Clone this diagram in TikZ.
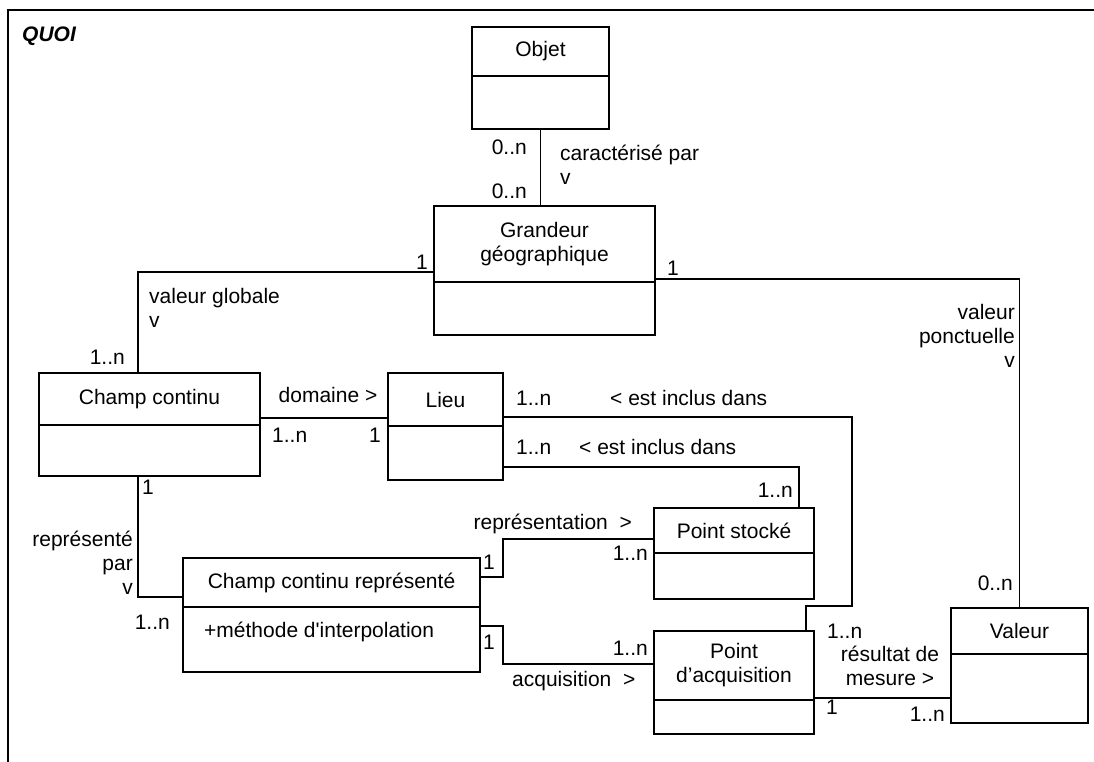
\documentclass[tikz,border=0pt]{standalone}
\usepackage{fontspec}
\setmainfont{Liberation Sans}
\usetikzlibrary{positioning}

\begin{document}
\begin{tikzpicture}[
  x=1pt, y=-1pt,
  font=\fontsize{21}{24}\selectfont,
  head/.style={draw, line width=1.6pt, inner sep=0pt, outer sep=0pt,
               anchor=north west, align=center},
  body/.style={draw, line width=1.6pt, inner sep=0pt, outer sep=0pt},
  assoc/.style={line width=1.3pt},
  mult/.style={inner sep=0pt},
  role/.style={inner sep=0pt, align=left},
  frame/.style={line width=2pt},
]
\useasboundingbox (0,0) rectangle (1094,762);

% Frame of the package
\draw[frame] (1094,10) -- (8,10) -- (8,762);
\node[mult, anchor=base west, font=\fontsize{21}{24}\selectfont\bfseries\itshape] (quoi) at (22,42) {QUOI};

% Classes: name compartment + attribute compartment
\node[head, minimum width=137, minimum height=49] (objet-h) at (472,27) {Objet};
\node[body, minimum width=137, minimum height=53, below=0pt of objet-h] (objet-b) {};

\node[head, minimum width=221, minimum height=76] (grandeur-h) at (434,206) {Grandeur\\géographique};
\node[body, minimum width=221, minimum height=53, below=0pt of grandeur-h] (grandeur-b) {};

\node[head, minimum width=221, minimum height=52] (champ-h) at (39,373) {Champ continu};
\node[body, minimum width=221, minimum height=51, below=0pt of champ-h] (champ-b) {};

\node[head, minimum width=115, minimum height=53] (lieu-h) at (388,373) {Lieu};
\node[body, minimum width=115, minimum height=54, below=0pt of lieu-h] (lieu-b) {};

\node[head, minimum width=297, minimum height=49] (ccr-h) at (183,558) {Champ continu représenté};
\node[body, minimum width=297, minimum height=65, below=0pt of ccr-h] (ccr-b) {};
\node[role, anchor=west] (methode) at (204,632) {+méthode d\textquotesingle interpolation};

\node[head, minimum width=160, minimum height=45] (stocke-h) at (654,508) {Point stocké};
\node[body, minimum width=160, minimum height=46, below=0pt of stocke-h] (stocke-b) {};

\node[head, minimum width=160, minimum height=69] (acq-h) at (654,631) {Point\\d’acquisition};
\node[body, minimum width=160, minimum height=34, below=0pt of acq-h] (acq-b) {};

\node[head, minimum width=137, minimum height=46] (valeur-h) at (951,608) {Valeur};
\node[body, minimum width=137, minimum height=69, below=0pt of valeur-h] (valeur-b) {};

% Associations
\draw[assoc] (objet-b.south) -- (objet-b.south |- grandeur-h.north);
\draw[assoc] ([yshift=10pt]grandeur-h.south west) -| ([xshift=99pt]champ-h.north west);
\draw[assoc] ([yshift=3pt]grandeur-h.south east) -| (valeur-h.north);
\draw[assoc] ([yshift=7pt]champ-h.south east) -- ([yshift=8pt]lieu-h.south west);
\draw[assoc] ([yshift=9pt]lieu-h.south east) -- ++(349,0)
  |- ([xshift=-8pt,yshift=25pt]acq-h.north east) -- ([xshift=-8pt]acq-h.north east);
\draw[assoc] ([yshift=13pt]lieu-b.south east) -| ([xshift=-15pt]stocke-h.north east);
\draw[assoc] ([xshift=99pt]champ-b.south west) |- ([yshift=10pt]ccr-h.south west);
\draw[assoc] ([yshift=30pt]ccr-h.south east) -- ++(23,0) |- ([yshift=14pt]stocke-h.south west);
\draw[assoc] ([yshift=-19pt]ccr-b.north east) -- ++(23,0) |- ([yshift=36pt]acq-h.south west);
\draw[assoc] ([yshift=2pt]acq-h.south east) -- ([yshift=-44pt]valeur-b.north west);

% Role names
\node[role, anchor=north west] (caract) at (560,145) {caractérisé par\\v};
\node[role, anchor=north west] (valglob) at (149,288) {valeur globale\\v};
\node[role, anchor=north east, align=right] (valponct) at (1015,304) {valeur\\ponctuelle\\v};
\node[role, anchor=north east, align=right] (reprpar) at (133,531) {représenté\\par\\v};
\node[role, anchor=north, align=center] (resmes) at (890,646) {résultat de\\mesure >};
\node[mult, anchor=base] (domaine) at (328,402) {domaine >};
\node[mult, anchor=base west] (inclus-a) at (610,405) {< est inclus dans};
\node[mult, anchor=base west] (inclus-b) at (579,454) {< est inclus dans};
\node[mult, anchor=base east] (repres) at (632,529) {représentation\ \ >};
\node[mult, anchor=base west] (acquis) at (512,686) {acquisition\ \ >};

% Multiplicities
\node[mult, anchor=base east] (m-objet) at (527,155) {0..n};
\node[mult, anchor=base east] (m-grand-a) at (527,199) {0..n};
\node[mult, anchor=base east] (m-grand-b) at (428,269) {1};
\node[mult, anchor=base west] (m-grand-c) at (667,275) {1};
\node[mult, anchor=base east] (m-champ-a) at (125,364) {1..n};
\node[mult, anchor=base west] (m-champ-b) at (272,442) {1..n};
\node[mult, anchor=base east] (m-lieu-a) at (381,442) {1};
\node[mult, anchor=base west] (m-lieu-b) at (516,405) {1..n};
\node[mult, anchor=base west] (m-lieu-c) at (516,454) {1..n};
\node[mult, anchor=base east] (m-stocke-a) at (793,497) {1..n};
\node[mult, anchor=base east] (m-stocke-b) at (648,560) {1..n};
\node[mult, anchor=base west] (m-champ-c) at (142,494) {1};
\node[mult, anchor=base east] (m-ccr-a) at (170,629) {1..n};
\node[mult, anchor=base] (m-ccr-b) at (489,569) {1};
\node[mult, anchor=base] (m-ccr-c) at (489,649) {1};
\node[mult, anchor=base east] (m-acq-a) at (648,655) {1..n};
\node[mult, anchor=base west] (m-acq-b) at (827,638) {1..n};
\node[mult, anchor=base] (m-acq-c) at (832,714) {1};
\node[mult, anchor=base east] (m-valeur-a) at (945,721) {1..n};
\node[mult, anchor=base east] (m-valeur-b) at (1013,590) {0..n};

\end{tikzpicture}
\end{document}
